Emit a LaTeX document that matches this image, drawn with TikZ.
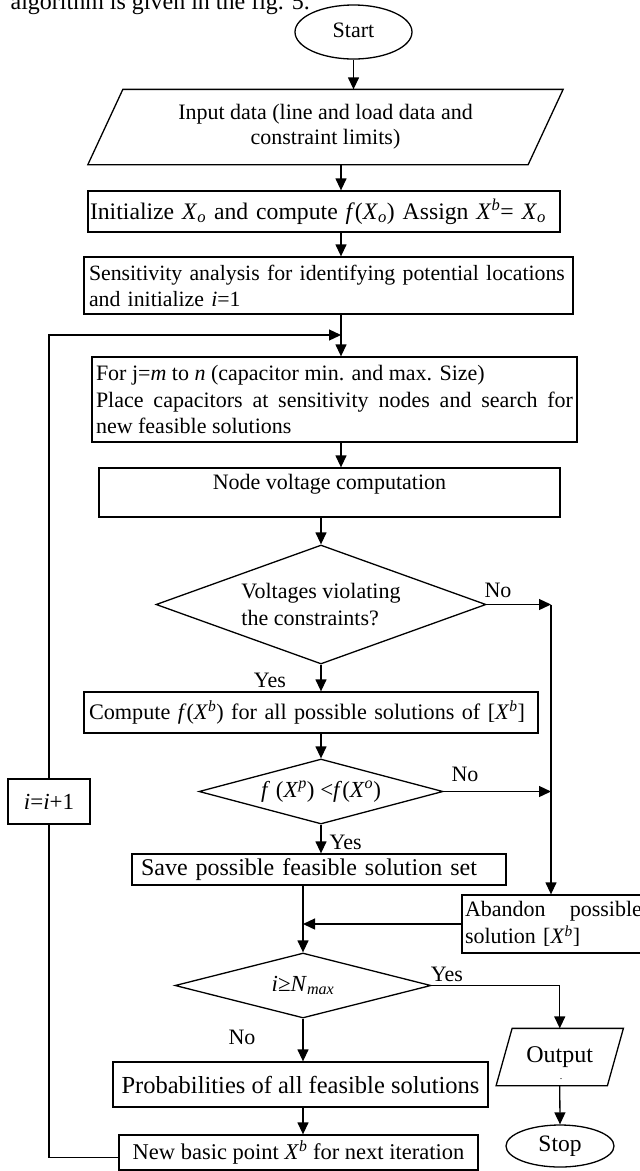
\documentclass[tikz,border=0pt]{standalone}
\usepackage{fontspec}
\setmainfont{Liberation Serif}
\usetikzlibrary{shapes.geometric,arrows.meta,calc}
\newcommand{\myfs}[2]{\fontsize{#1}{#2}\selectfont}
\newcommand{\Xsub}[1]{\textit{X}\textsubscript{\textit{#1}}}
\newcommand{\Xsup}[1]{\textit{X}\textsuperscript{\textit{#1}}}
\begin{document}
\begin{tikzpicture}[x=1pt,y=-1pt,line width=1.3pt,
  box/.style={draw,rectangle,inner sep=0pt},
  arr/.style={-{Triangle[length=12pt,width=11pt]}},
  lbl/.style={font=\myfs{22}{25},inner sep=0pt}]
\useasboundingbox (0,0) rectangle (640,1171);
\clip (0,0) rectangle (640,1171);

\node[anchor=base west,font=\myfs{24}{28},inner sep=0pt] (head) at (10,9) {algorithm is given in the fig. 5.};

\node[draw,ellipse,minimum width=117,minimum height=54,inner sep=0pt,font=\myfs{22}{25}] (start) at (353.5,32) {\raisebox{4pt}{Start}};

\node[minimum width=439,minimum height=74,inner sep=0pt,align=center,font=\myfs{22}{25}] (input) at (325.5,127) {Input data (line and load data and\\constraint limits)};
\draw ([xshift=17.5pt]input.north west) -- ([xshift=17.5pt]input.north east) -- ([xshift=-17.5pt]input.south east) -- ([xshift=-17.5pt]input.south west) -- cycle;

\node[box,minimum width=472,minimum height=41,text width=468,align=left,font=\myfs{23.7}{28}] (init) at (324,211.5) {\mbox{Initialize \Xsub{o} and compute \textit{f}(\Xsub{o}) Assign \Xsup{b}= \Xsub{o}}};

\node[box,minimum width=489,minimum height=57,text width=479,align=left,font=\myfs{21.8}{26}] (sens) at (328.5,285.5) {\mbox{Sensitivity analysis for identifying potential locations}\\\mbox{and initialize \textit{i}=1}};

\node[box,minimum width=485,minimum height=85,text width=477,align=justify,font=\myfs{22}{26.5}] (forb) at (334.5,399.5) {\leftskip=14pt For j=\textit{m} to \textit{n} (capacitor min. and max. Size)\newline Place capacitors at sensitivity nodes and search for\linebreak new feasible solutions};

\node[box,minimum width=461,text height=21pt,text depth=28pt,font=\myfs{22}{25}] (nv) at (329.5,492.5) {Node voltage computation};

\node[draw,diamond,aspect=2.77,minimum width=330,minimum height=119,inner sep=0pt,align=left,font=\myfs{22}{27}] (d1) at (321,604.5) {Voltages violating\\the constraints?};

\node[box,minimum width=454,minimum height=41,text width=444,align=left,font=\myfs{22.2}{26}] (comp) at (311,712.5) {\mbox{Compute \textit{f}(\Xsup{b}) for all possible solutions of [\Xsup{b}]}};

\node[draw,diamond,aspect=3.75,minimum width=244,minimum height=65,inner sep=0pt,font=\myfs{23}{26}] (d2) at (321,791.5) {\textit{f} (\Xsup{p}) <\textit{f}(\Xsup{o})};

\node[box,minimum width=374,minimum height=31,text width=356,align=left,font=\myfs{24}{27}] (save) at (319,869.5) {\mbox{Save possible feasible solution set}};

\node[box,minimum width=183,minimum height=58,text width=177,align=left,font=\myfs{22}{27}] (aband) at (553.5,924) {Abandon\hfill possible\\solution [\Xsup{b}]};

\node[draw,diamond,aspect=3.94,minimum width=256,minimum height=65,inner sep=0pt,font=\myfs{23}{26}] (d3) at (303,985.5) {\textit{i}≥\textit{N}\textsubscript{\textit{max}}};

\node[box,minimum width=375,minimum height=45,font=\myfs{24.5}{28}] (prob) at (300.5,1084.5) {Probabilities of all feasible solutions};

\node[box,minimum width=359,minimum height=35,font=\myfs{22.5}{26}] (newb) at (298.5,1152.5) {New basic point \Xsup{b} for next iteration};

\node[box,minimum width=82,minimum height=45,font=\myfs{23}{26}] (iplus) at (49,801.5) {\textit{i}=\textit{i}+1};

\node[minimum width=110,minimum height=56,inner sep=0pt,font=\myfs{24}{28}] (outp) at (559.75,1057) {Output\hspace{15pt}};
\draw ([xshift=8pt]outp.north west) -- ([xshift=8pt]outp.north east) -- ([xshift=-8pt]outp.south east) -- ([xshift=-8pt]outp.south west) -- cycle;
\node[inner sep=0pt,font=\myfs{10}{10}] (outdot) at (561,1079) {.};

\node[draw,ellipse,minimum width=108,minimum height=42,inner sep=0pt,font=\myfs{23.5}{26}] (stop) at (560,1146) {Stop};

\node[lbl] (yes1) at (270,680) {Yes};
\node[lbl] (no1) at (498,590) {No};
\node[lbl] (no2) at (465,774) {No};
\node[lbl,anchor=west] (yes2) at (329,842) {Yes};
\node[lbl] (yes3) at (447,974) {Yes};
\node[lbl] (no3) at (242,1037) {No};

\coordinate (join) at (341,335);
\coordinate (rbus) at (551,604.5);

\draw[arr] (start.south) -- (start.south |- input.north);
\draw[arr] (input.south -| join) -- (init.north -| join);
\draw[arr] (init.south -| join) -- (sens.north -| join);
\draw[arr] (sens.south -| join) -- (forb.north -| join);
\draw[arr] (forb.south -| join) -- (nv.north -| join);
\draw[arr] (nv.south -| d1.north) -- (d1.north);
\draw[arr] (d1.east) -- (rbus);
\draw[arr] (rbus) -- (rbus |- aband.north);
\draw[arr] (d1.south) -- (d1.south |- comp.north);
\draw[arr] (comp.south -| d2.north) -- (d2.north);
\draw[arr] (d2.east) -- (d2.east -| rbus);
\draw[arr] (d2.south) -- (d2.south |- save.north);
\draw[arr] (save.south -| d3.north) -- (d3.north);
\draw[arr] (aband.west) -- (aband.west -| d3.north);
\draw[arr] (d3.east) -| (outp.north);
\draw[arr] (d3.south) -- (d3.south |- prob.north);
\draw[arr] (prob.south -| d3.south) -- (newb.north -| d3.south);
\draw[arr] (outp.south) -- (stop.north);
\draw ([yshift=-5pt]newb.west) -| (iplus.south);
\draw[arr] (iplus.north) |- (join);
\end{tikzpicture}
\end{document}
